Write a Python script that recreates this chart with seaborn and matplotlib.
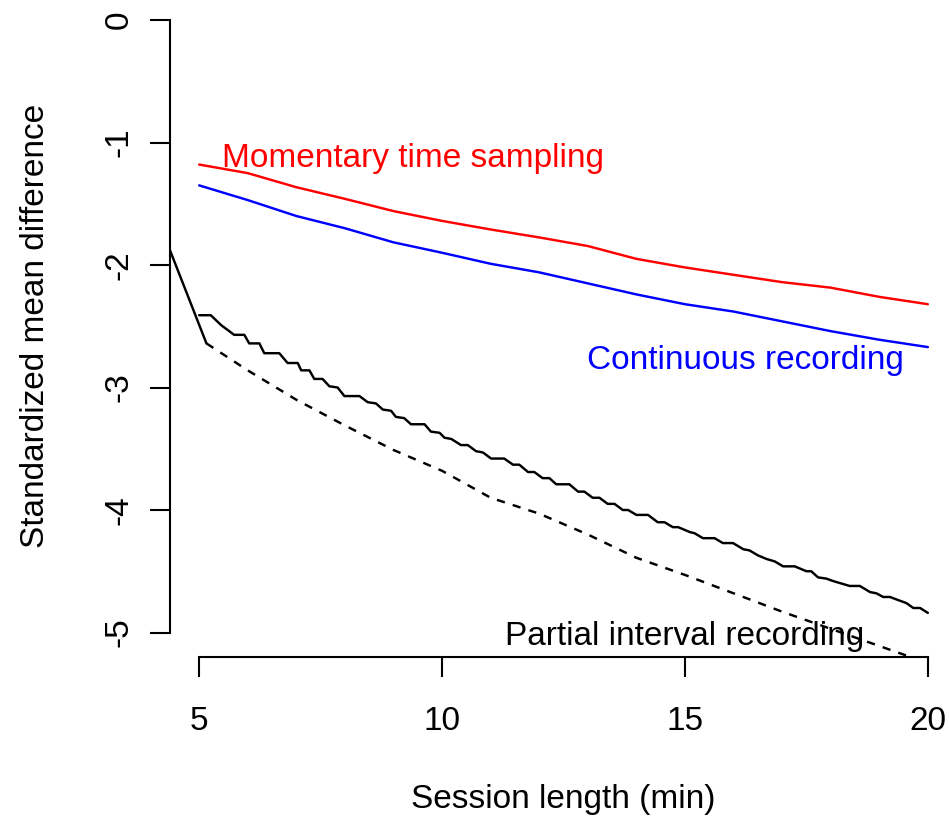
import matplotlib
matplotlib.use("Agg")
import matplotlib.pyplot as plt
import seaborn as sns
import pandas as pd

# ---------------- data ----------------
session_min = [5, 6, 7, 8, 9, 10, 11, 12, 13, 14, 15, 16, 17, 18, 19, 20]

mts_smd = [-1.18, -1.25, -1.365, -1.46, -1.56, -1.64, -1.71, -1.775, -1.845,
           -1.95, -2.02, -2.08, -2.14, -2.185, -2.26, -2.32]

cr_smd = [-1.35, -1.47, -1.60, -1.70, -1.815, -1.90, -1.99, -2.06, -2.15,
          -2.24, -2.32, -2.38, -2.46, -2.54, -2.61, -2.67]

pir_solid_x = [5.00, 5.24, 5.45, 5.72, 5.93, 6.03, 6.24, 6.34, 6.65, 6.82, 7.03, 7.10,
               7.27, 7.37, 7.54, 7.68, 7.85, 7.99, 8.30, 8.47, 8.64, 8.78, 8.95, 9.05,
               9.22, 9.36, 9.64, 9.77, 9.95,
               10.05, 10.19, 10.39, 10.53, 10.70, 10.84, 11.01, 11.28, 11.46, 11.59,
               11.77, 11.90, 12.07, 12.21, 12.35, 12.62, 12.80, 12.93, 13.10, 13.24,
               13.41, 13.55, 13.72, 13.83, 14.00, 14.24, 14.44, 14.58, 14.75, 14.86,
               15.10, 15.20, 15.37, 15.61, 15.78, 15.99, 16.20, 16.33, 16.50, 16.68,
               16.85, 17.02, 17.26, 17.50, 17.60, 17.74, 17.91, 18.05, 18.22, 18.39,
               18.60, 18.81, 18.94, 19.08, 19.22, 19.42, 19.56, 19.70, 19.84, 20.00]
pir_solid_y = [-2.41, -2.41, -2.49, -2.57, -2.57, -2.64, -2.64, -2.72, -2.72, -2.80, -2.80, -2.86,
               -2.86, -2.93, -2.93, -2.99, -3.00, -3.07, -3.07, -3.12, -3.13, -3.18, -3.19, -3.24,
               -3.25, -3.30, -3.30, -3.36, -3.37,
               -3.41, -3.42, -3.47, -3.47, -3.52, -3.53, -3.58, -3.58, -3.63, -3.63,
               -3.69, -3.69, -3.74, -3.74, -3.79, -3.79, -3.85, -3.85, -3.90, -3.90,
               -3.95, -3.95, -4.00, -4.00, -4.04, -4.04, -4.10, -4.10, -4.14, -4.14,
               -4.18, -4.19, -4.23, -4.23, -4.27, -4.27, -4.32, -4.33, -4.37, -4.40,
               -4.42, -4.46, -4.46, -4.50, -4.50, -4.55, -4.56, -4.58, -4.60, -4.62,
               -4.62, -4.67, -4.68, -4.71, -4.71, -4.74, -4.76, -4.80, -4.80, -4.84]

pir_dashed_x = [5.15, 6, 7, 8, 9, 10, 11, 12, 13, 14, 15, 16, 17, 18, 19, 20]
pir_dashed_y = [-2.64, -2.86, -3.10, -3.31, -3.51, -3.68, -3.90, -4.03, -4.20,
                -4.39, -4.53, -4.68, -4.83, -4.97, -5.11, -5.25]

lead_x = [4.40, 5.15]
lead_y = [-1.88, -2.64]

x_ticks = [5, 10, 15, 20]
y_ticks = [0, -1, -2, -3, -4, -5]

labels = ["Momentary time sampling", "Continuous recording", "Partial interval recording"]
label_x = [9.40, 16.25, 15.0]
label_y = [-1.20, -2.85, -5.10]
label_col = ["#ff0000", "#0000ff", "#000000"]

# ---------------- styling ----------------
sns.set_theme(style="white")
plt.rcParams["font.family"] = ["Liberation Sans", "DejaVu Sans"]
plt.rcParams["font.size"] = 24

fig = plt.figure(figsize=(9.49, 8.25), dpi=100)
ax = fig.add_axes([170 / 949, 1 - 657 / 825, 787 / 949, 661.5 / 825])

df_mts = pd.DataFrame({"x": session_min, "y": mts_smd})
df_cr = pd.DataFrame({"x": session_min, "y": cr_smd})
df_ps = pd.DataFrame({"x": pir_solid_x, "y": pir_solid_y})
df_pd = pd.DataFrame({"x": pir_dashed_x, "y": pir_dashed_y})
df_lead = pd.DataFrame({"x": lead_x, "y": lead_y})

lw = 1.75
sns.lineplot(data=df_mts, x="x", y="y", ax=ax, color="#ff0000", lw=lw, estimator=None, sort=False)
sns.lineplot(data=df_cr, x="x", y="y", ax=ax, color="#0000ff", lw=lw, estimator=None, sort=False)
sns.lineplot(data=df_ps, x="x", y="y", ax=ax, color="black", lw=lw, estimator=None, sort=False)
sns.lineplot(data=df_lead, x="x", y="y", ax=ax, color="black", lw=lw, estimator=None, sort=False)
sns.lineplot(data=df_pd, x="x", y="y", ax=ax, color="black", lw=lw, estimator=None, sort=False,
             linestyle=(0, (3.4, 3.4)))

for t, xx, yy, c in zip(labels, label_x, label_y, label_col):
    ax.text(xx, yy, t, color=c, ha="center", va="baseline", fontsize=24)

ax.set_xlim(4.4, 20.6)
ax.set_ylim(-5.2, 0.2)

ax.set_xticks(x_ticks)
ax.set_xticklabels([str(v) for v in x_ticks])
ax.set_yticks(y_ticks)
ax.set_yticklabels([str(v) for v in y_ticks])
plt.setp(ax.get_yticklabels(), rotation=90, va="center")

for s in ["top", "right"]:
    ax.spines[s].set_visible(False)
for s in ["left", "bottom"]:
    ax.spines[s].set_linewidth(1.5)
    ax.spines[s].set_color("black")
ax.spines["left"].set_bounds(-5, 0)
ax.spines["bottom"].set_bounds(5, 20)

ax.tick_params(axis="both", direction="out", length=14.4, width=1.5, color="black",
               labelsize=24, labelcolor="black", left=True, bottom=True)
ax.tick_params(axis="x", pad=21)
ax.tick_params(axis="y", pad=11)

ax.set_xlabel("Session length (min)", fontsize=24, color="black", va="center")
ax.xaxis.set_label_coords(0.5, -0.216)
ax.set_ylabel("Standardized mean difference", fontsize=24, color="black", va="center")
ax.yaxis.set_label_coords(-0.1715, 0.5)

ax.set_facecolor("white")
fig.patch.set_facecolor("white")
fig.savefig("out.png", dpi=100)
